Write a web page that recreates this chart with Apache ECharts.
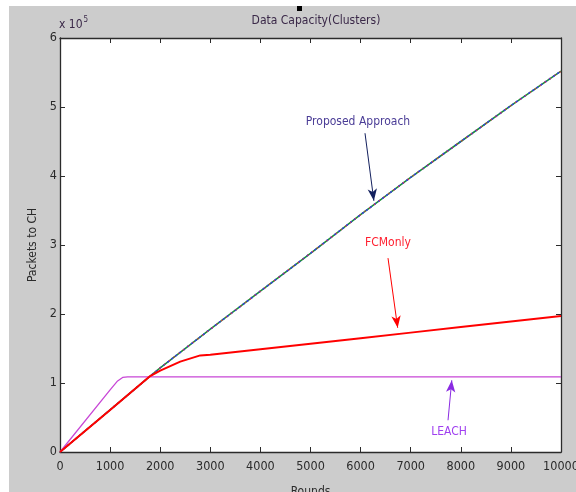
<!DOCTYPE html>
<html>
<head>
<meta charset="utf-8">
<script src="https://cdn.jsdelivr.net/npm/echarts@6/dist/echarts.min.js"></script>
<style>
    html, body { margin: 0; padding: 0; background: #ffffff; }
    #wrap { position: relative; width: 576px; height: 492px; overflow: hidden; }
    #mainChart { position: absolute; left: 9px; top: 6px; width: 567px; height: 486px; }
</style>
</head>
<body>
<div id="wrap"><div id="mainChart"></div></div>
<script>
var FONT = "'Liberation Sans Narrow', 'DejaVu Sans Condensed', sans-serif";

// x ticks (rounds) and y ticks (x 10^5 packets)
var xTicks = [0,1000,2000,3000,4000,5000,6000,7000,8000,9000,10000];
var yTicks = [0,1,2,3,4,5,6];

// Proposed Approach
var proposedRounds  = [0, 1000, 1800, 2000, 3000, 4000, 5000, 6000, 7000, 8000, 9000, 10000];
var proposedPackets = [0, 61000, 110000, 122000, 178000, 233000, 288000, 344000, 398000, 450000, 502000, 552000];

// FCMonly
var fcmRounds  = [0, 1000, 1800, 2000, 2400, 2800, 3000, 4000, 5000, 6000, 7000, 8000, 9000, 10000];
var fcmPackets = [0, 61000, 110000, 118000, 131000, 140000, 141000, 149000, 157000, 165000, 173000, 181000, 189000, 197000];

// LEACH
var leachRounds  = [0, 1000, 1150, 1250, 1350, 10000];
var leachPackets = [0, 90000, 103000, 108000, 109000, 109000];

// annotations: [label x, label y, arrow start x, arrow start y, arrow end x, arrow end y]
var noteProposed = [5948, 478000, 6088, 462000, 6265, 364000];
var noteFcm      = [6547, 303000, 6547, 281000, 6740, 180000];
var noteLeach    = [7764, 29000, 7745, 46000, 7820, 104000];

function pairs(xs, ys) {
    var out = [];
    for (var i = 0; i < xs.length; i++) {
        out.push([xs[i], ys[i]]);
    }
    return out;
}

function note(n, text, color, arrowColor) {
    return {
        markLine: {
            silent: true,
            symbol: ['none', 'arrow'],
            symbolSize: [7, 12],
            label: {show: false},
            lineStyle: {color: arrowColor, width: 1, type: 'solid'},
            data: [[{coord: [n[2], n[3]]}, {coord: [n[4], n[5]]}]]
        },
        markPoint: {
            silent: true,
            symbol: 'circle',
            symbolSize: 1,
            itemStyle: {color: 'rgba(0,0,0,0)'},
            label: {
                show: true, position: 'inside', formatter: text,
                color: color, fontSize: 12, fontFamily: FONT
            },
            data: [{coord: [n[0], n[1]]}]
        }
    };
}

var xMax = xTicks[xTicks.length - 1];
var yMax = yTicks[yTicks.length - 1] * 100000;

// matlab style box: axis on all four sides, ticks pointing in
function axisCommon() {
    return {
        axisLine: {show: true, onZero: false, lineStyle: {color: '#2b2b2b', width: 1.3}},
        axisTick: {show: true, inside: true, length: 5, lineStyle: {color: '#2b2b2b'}},
        splitLine: {show: false}
    };
}

var s1 = note(noteProposed, 'Proposed Approach', '#4a3c96', '#13205e');
var s2 = note(noteFcm, 'FCMonly', '#ff2030', '#ff0000');
var s3 = note(noteLeach, 'LEACH', '#a040f0', '#8a2be2');

var option = {
    animation: false,
    backgroundColor: '#cccccc',
    grid: {
        left: 51, right: 15, top: 32, bottom: 40,
        outerBoundsMode: 'none', containLabel: false,
        show: true, backgroundColor: '#ffffff', borderWidth: 0
    },
    title: {
        text: 'Data Capacity(Clusters)',
        left: 302, top: 4, textAlign: 'center',
        textStyle: {fontSize: 12, fontWeight: 'normal', color: '#3a2848', fontFamily: FONT}
    },
    graphic: [
        {type: 'rect', left: 288, top: 0, shape: {width: 5, height: 5}, style: {fill: '#000000'}},
        {
            type: 'text', left: 50, top: 10,
            style: {
                text: '{a|x 10}{b|5}',
                rich: {
                    a: {fontSize: 12, fontFamily: FONT, fill: '#3a2848', padding: [6, 0, 0, 0]},
                    b: {fontSize: 8, fontFamily: FONT, fill: '#3a2848', padding: [0, 0, 4, 1]}
                },
                fill: '#3a2848'
            }
        }
    ],
    xAxis: [
        Object.assign({
            type: 'value', min: 0, max: xMax, interval: 1000, position: 'bottom',
            name: 'Rounds', nameLocation: 'middle', nameGap: 34,
            nameTextStyle: {fontSize: 12, color: '#2b2b2b', fontFamily: FONT},
            axisLabel: {
                fontSize: 12.5, color: '#2b2b2b', margin: 8, fontFamily: FONT,
                formatter: function (v) { return String(v); }
            }
        }, axisCommon()),
        Object.assign({
            type: 'value', min: 0, max: xMax, interval: 1000, position: 'top',
            axisLabel: {show: false}
        }, axisCommon())
    ],
    yAxis: [
        Object.assign({
            type: 'value', min: 0, max: yMax, interval: 100000, position: 'left',
            name: 'Packets to CH', nameLocation: 'middle', nameGap: 10,
            nameTextStyle: {fontSize: 12, color: '#2b2b2b', fontFamily: FONT},
            axisLabel: {
                fontSize: 12.5, color: '#2b2b2b', margin: 3, fontFamily: FONT,
                formatter: function (v) { return String(v / 100000); }
            }
        }, axisCommon()),
        Object.assign({
            type: 'value', min: 0, max: yMax, interval: 100000, position: 'right',
            axisLabel: {show: false}
        }, axisCommon())
    ],
    series: [
        Object.assign({
            name: 'Proposed Approach', type: 'line', showSymbol: false, silent: true,
            data: pairs(proposedRounds, proposedPackets),
            lineStyle: {color: '#1e8c3a', width: 1.6}
        }, s1),
        {
            name: 'Proposed Approach (overlay)', type: 'line', showSymbol: false, silent: true,
            data: pairs(proposedRounds, proposedPackets),
            lineStyle: {color: '#3a3ae0', width: 1.6, type: [2, 3]}
        },
        {
            name: 'Proposed Approach (overlay 2)', type: 'line', showSymbol: false, silent: true,
            data: pairs(proposedRounds, proposedPackets),
            lineStyle: {color: '#e03050', width: 1.6, type: [1, 5], dashOffset: 2}
        },
        Object.assign({
            name: 'LEACH', type: 'line', showSymbol: false, silent: true,
            data: pairs(leachRounds, leachPackets),
            lineStyle: {color: '#c847d6', width: 1.3}
        }, s3),
        Object.assign({
            name: 'FCMonly', type: 'line', showSymbol: false, silent: true,
            data: pairs(fcmRounds, fcmPackets),
            lineStyle: {color: '#ff0000', width: 2}
        }, s2)
    ]
};

var chart = echarts.init(document.getElementById('mainChart'));
chart.setOption(option);
window.onresize = function () {
    chart.resize();
};
</script>
</body>
</html>
